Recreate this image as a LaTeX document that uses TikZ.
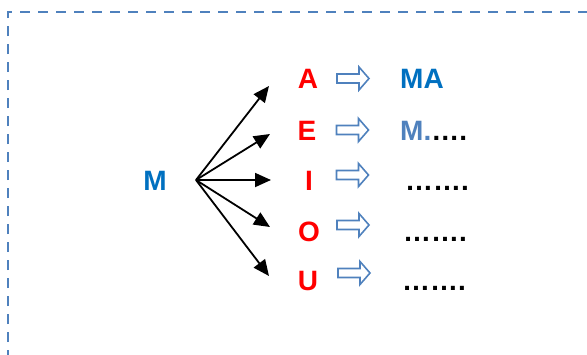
\documentclass[tikz,border=0pt]{standalone}
\usepackage{fontspec}
\setmainfont{Liberation Sans}
\usetikzlibrary{arrows.meta}
\definecolor{deepblue}{HTML}{0070C0}
\definecolor{steel}{HTML}{4F81BD}
\definecolor{vred}{HTML}{FF0000}
\tikzset{
  big/.style={font=\fontsize{28}{28}\selectfont\bfseries, inner sep=0pt, anchor=base},
  vowel/.style={big, text=vred},
  blockarrow/.pic={\draw[steel, line width=1.6pt, line join=miter, fill=white]
     (0,-4.5) -- (22,-4.5) -- (22,-11.5) -- (32,0) -- (22,11.5) -- (22,4.5) -- (0,4.5) -- cycle;},
  fan/.style={line width=1.8pt, -{Triangle[length=16pt,width=14pt]}},
  frame/.style={steel, line width=2.6pt, dash pattern=on 10pt off 8pt}
}
\begin{document}
\begin{tikzpicture}[x=1pt,y=-1pt]
\useasboundingbox (0,0) rectangle (587,354);
\draw[frame] (8,360) -- (8,12) -- (600,12);
\node[big, text=deepblue] (M) at (155,190) {M};
\coordinate (hub) at (196,180);
\node[vowel] (A) at (308,88) {A};
\node[vowel] (E) at (307,140) {E};
\node[vowel] (I) at (309,190) {I};
\node[vowel] (O) at (309,241) {O};
\node[vowel] (U) at (308,290) {U};
\coordinate (tA) at (269,86);
\coordinate (tE) at (270,134);
\coordinate (tI) at (271,180);
\coordinate (tO) at (270,227);
\coordinate (tU) at (269,276);
\draw[fan] (hub) -- (tA);
\draw[fan] (hub) -- (tE);
\draw[fan] (hub) -- (tI);
\draw[fan] (hub) -- (tO);
\draw[fan] (hub) -- (tU);
\pic (bA) at (337,78.5) {blockarrow};
\pic (bE) at (336.5,130) {blockarrow};
\pic (bI) at (336.5,175) {blockarrow};
\pic (bO) at (337,225) {blockarrow};
\pic (bU) at (338,273) {blockarrow};
\node[big, anchor=base west, text=deepblue] (rA) at (400,88) {MA};
\node[big, anchor=base west] (rE) at (400,140) {\textcolor{steel}{M.}….};
\node[big, anchor=base west] (rI) at (405,190) {…….};
\node[big, anchor=base west] (rO) at (403,241) {…….};
\node[big, anchor=base west] (rU) at (402,290) {…….};
\end{tikzpicture}
\end{document}
